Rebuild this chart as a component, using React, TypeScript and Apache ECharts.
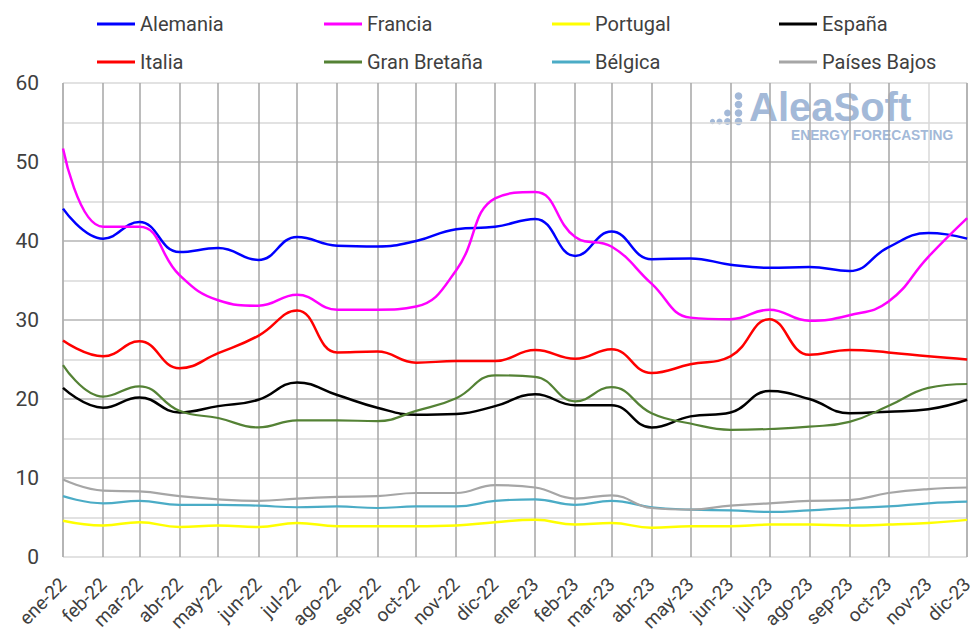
import React, { useEffect, useRef } from "react";
import * as echarts from "echarts";

const monthNames = ["ene", "feb", "mar", "abr", "may", "jun", "jul", "ago", "sep", "oct", "nov", "dic"];
const startYear = 2022;
const monthCount = 24;

const alemania = [44.1, 40.3, 42.4, 38.6, 39.1, 37.6, 40.5, 39.4, 39.3, 40.0, 41.5, 41.8, 42.8, 38.1, 41.2, 37.7, 37.8, 37.0, 36.6, 36.7, 36.2, 39.2, 41.0, 40.3];
const francia = [51.7, 41.8, 41.8, 35.7, 32.5, 31.8, 33.2, 31.3, 31.3, 31.7, 36.3, 45.4, 46.2, 40.5, 39.3, 34.6, 30.3, 30.1, 31.3, 29.9, 30.6, 32.3, 38.0, 42.9];
const portugal = [4.6, 4.0, 4.4, 3.8, 4.0, 3.8, 4.3, 3.9, 3.9, 3.9, 4.0, 4.4, 4.7, 4.1, 4.3, 3.7, 3.9, 3.9, 4.1, 4.1, 4.0, 4.1, 4.3, 4.7];
const espana = [21.4, 18.9, 20.2, 18.3, 19.1, 19.9, 22.1, 20.5, 18.9, 18.0, 18.1, 19.1, 20.6, 19.2, 19.2, 16.4, 17.8, 18.3, 21.0, 20.0, 18.2, 18.4, 18.7, 19.9];
const italia = [27.4, 25.4, 27.3, 23.9, 25.8, 28.0, 31.2, 25.9, 26.0, 24.6, 24.8, 24.8, 26.2, 25.1, 26.3, 23.3, 24.4, 25.4, 30.1, 25.6, 26.2, 25.9, 25.4, 25.0];
const granBretana = [24.3, 20.3, 21.6, 18.5, 17.6, 16.4, 17.3, 17.3, 17.2, 18.5, 20.1, 23.0, 22.8, 19.7, 21.5, 18.2, 16.9, 16.1, 16.2, 16.5, 17.1, 19.1, 21.4, 21.9];
const belgica = [7.7, 6.8, 7.1, 6.6, 6.6, 6.5, 6.3, 6.4, 6.2, 6.4, 6.4, 7.1, 7.3, 6.6, 7.1, 6.3, 6.0, 5.9, 5.7, 5.9, 6.2, 6.4, 6.8, 7.0];
const paisesBajos = [9.8, 8.4, 8.3, 7.7, 7.3, 7.1, 7.4, 7.6, 7.7, 8.1, 8.1, 9.1, 8.8, 7.4, 7.8, 6.2, 6.0, 6.5, 6.8, 7.1, 7.2, 8.1, 8.6, 8.8];

const seriesNames = ["Alemania", "Francia", "Portugal", "España", "Italia", "Gran Bretaña", "Bélgica", "Países Bajos"];
const seriesValues = [alemania, francia, portugal, espana, italia, granBretana, belgica, paisesBajos];
const seriesColors = ["#0000ff", "#ff00ff", "#ffff00", "#000000", "#ff0000", "#548235", "#4bacc6", "#a6a6a6"];
const seriesWidths = [2.5, 2.5, 2.5, 2.5, 2.5, 2.2, 2.2, 2.2];

const yTicks = [0, 10, 20, 30, 40, 50, 60];

const monthDate = (i: number) => new Date(startYear + Math.floor(i / 12), i % 12, 1).getTime();

export default function App() {
  const ref = useRef<HTMLDivElement>(null);
  useEffect(() => {
    if (!ref.current) return;
    const chart = echarts.init(ref.current, undefined, { renderer: "svg" });
    const light = "#d9d9d9";
    const dark = "#b4b4b4";
    const yColors: string[] = [];
    for (let v = 0; v <= 60; v += 5) {
      yColors.push(v === 0 || v === 60 || v % 10 !== 0 ? light : dark);
    }
    const xColors: string[] = [];
    for (let i = 0; i < monthCount; i++) {
      xColors.push(i === 0 || i === monthCount - 1 ? light : "#a6a6a6");
    }
    const font = "Roboto, 'Noto Sans', sans-serif";
    const legendCols = [
      { left: 97, names: [seriesNames[0], seriesNames[4]] },
      { left: 324, names: [seriesNames[1], seriesNames[5]] },
      { left: 552, names: [seriesNames[2], seriesNames[6]] },
      { left: 779, names: [seriesNames[3], seriesNames[7]] },
    ];
    const logoColor = "#a3b9d8";
    const dots = [
      [738.5, 96, 3.8], [738.5, 104.5, 3.8], [738.5, 113, 3.8], [738.5, 121.5, 3.8],
      [727.5, 113, 3.4], [727.5, 121.5, 3.4],
      [719.5, 121.5, 3.0], [712.5, 121.5, 2.6],
    ];
    chart.setOption({
      animation: false,
      backgroundColor: "#ffffff",
      grid: { left: 63, right: 3, top: 83, bottom: 86 },
      legend: legendCols.map((c) => ({
        orient: "vertical",
        left: c.left,
        top: 13,
        padding: 0,
        itemGap: 16,
        itemWidth: 38,
        itemHeight: 3,
        icon: "rect",
        data: c.names,
        textStyle: { fontFamily: font, fontSize: 20, color: "#404040", lineHeight: 22 },
      })),
      graphic: [
        ...dots.map((d) => ({
          type: "circle",
          z: -1,
          shape: { cx: d[0], cy: d[1], r: d[2] },
          style: { fill: logoColor },
        })),
        {
          type: "text",
          z: -1,
          left: 749,
          top: 87,
          style: {
            text: "AleaSoft",
            fill: logoColor,
            font: "bold 40px 'Liberation Sans', Arial, sans-serif",
          },
        },
        {
          type: "text",
          z: -1,
          left: 791,
          top: 128,
          style: {
            text: "ENERGY FORECASTING",
            fill: logoColor,
            font: "bold 13.8px 'Liberation Sans', Arial, sans-serif",
          },
        },
      ],
      xAxis: {
        type: "time",
        min: monthDate(0),
        max: monthDate(monthCount - 1),
        splitNumber: 23,
        minInterval: 28 * 86400000,
        maxInterval: 31 * 86400000,
        axisLine: { show: false },
        axisTick: { show: false },
        splitLine: { show: true, lineStyle: { color: xColors, width: 1.5 } },
        axisLabel: {
          rotate: 45,
          margin: 24,
          hideOverlap: false,
          showMinLabel: true,
          showMaxLabel: true,
          fontFamily: font,
          fontSize: 19,
          color: "#404040",
          formatter: (value: number) => {
            const d = new Date(value);
            return monthNames[d.getMonth()] + "-" + String(d.getFullYear()).slice(2);
          },
        },
      },
      yAxis: {
        type: "value",
        min: 0,
        max: 60,
        interval: 5,
        axisLine: { show: false },
        axisTick: { show: false },
        splitLine: { show: true, lineStyle: { color: yColors, width: 1.5 } },
        axisLabel: {
          margin: 24,
          fontFamily: font,
          fontSize: 21,
          color: "#404040",
          formatter: (v: number) => (yTicks.indexOf(v) >= 0 ? String(v) : ""),
        },
      },
      series: seriesNames.map((name, k) => ({
        name,
        type: "line",
        smooth: 0.45,
        symbol: "none",
        showSymbol: false,
        color: seriesColors[k],
        lineStyle: { color: seriesColors[k], width: seriesWidths[k] },
        data: seriesValues[k].map((v, i) => [monthDate(i), v]),
      })),
    });
    return () => chart.dispose();
  }, []);
  return (
    <div
      ref={ref}
      style={{ position: "fixed", left: 0, top: 0, width: 976, height: 643 }}
    />
  );
}
